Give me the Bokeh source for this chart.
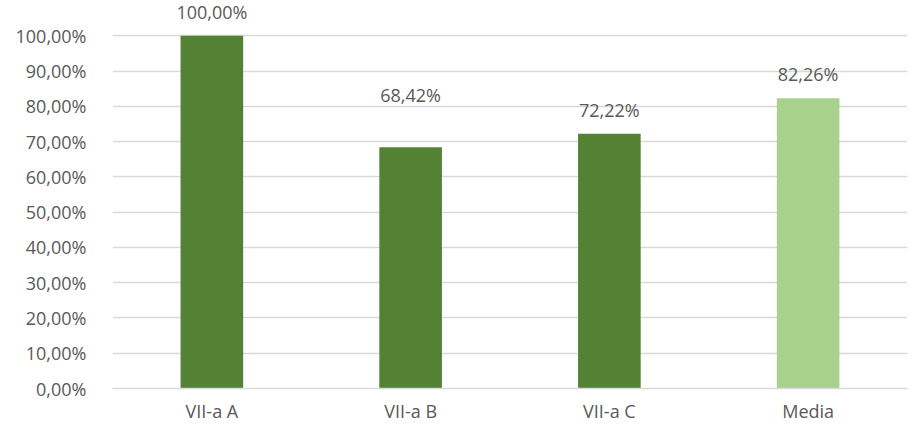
from bokeh.plotting import figure
from bokeh.models import ColumnDataSource, FixedTicker, CustomJSTickFormatter, Range1d, FactorRange
from bokeh.core.properties import value
from bokeh.embed import file_html
from bokeh.resources import INLINE

categories = ["VII-a A", "VII-a B", "VII-a C", "Media"]
values = [100.00, 68.42, 72.22, 82.26]
y_ticks = [0, 10, 20, 30, 40, 50, 60, 70, 80, 90, 100]

# styling
bar_colors = ["#548235", "#548235", "#548235", "#A9D18E"]
label_offsets = [-24, -52, -24, -24]
FONT = "Open Sans"
FS = "18px"
TXT = "#595959"
GRID = "#D9D9D9"

labels = [f"{v:.2f}".replace(".", ",") + "%" for v in values]
src = ColumnDataSource(dict(cat=categories, val=values, color=bar_colors,
                            lbl=labels, dy=label_offsets))

p = figure(x_range=FactorRange(*categories), y_range=Range1d(0, 110.0),
           width=908, height=425, output_backend="svg", toolbar_location=None,
           min_border_left=112, min_border_right=1, min_border_top=0, min_border_bottom=20)
p.outline_line_color = None
p.background_fill_color = "white"
p.border_fill_color = "white"

p.vbar(x="cat", top="val", width=0.315, color="color", line_color=None, source=src)
p.text(x="cat", y="val", text="lbl", y_offset="dy", source=src,
       text_align="center", text_baseline="middle",
       text_font=value(FONT), text_font_size=FS, text_color=TXT)

p.yaxis.ticker = FixedTicker(ticks=y_ticks)
p.yaxis.formatter = CustomJSTickFormatter(code="return tick.toFixed(2).replace('.', ',') + '%';")
p.yaxis.axis_line_color = None
p.yaxis.major_tick_line_color = None
p.yaxis.minor_tick_line_color = None
p.yaxis.major_label_standoff = 20
p.yaxis.major_label_text_font = FONT
p.yaxis.major_label_text_font_size = FS
p.yaxis.major_label_text_color = TXT

p.xaxis.axis_line_color = GRID
p.xaxis.axis_line_width = 1.5
p.xaxis.major_tick_line_color = None
p.xaxis.minor_tick_line_color = None
p.xaxis.major_tick_out = 0
p.xaxis.major_label_standoff = 10
p.xaxis.major_label_text_font = FONT
p.xaxis.major_label_text_font_size = FS
p.xaxis.major_label_text_color = TXT

p.xgrid.grid_line_color = None
p.ygrid.ticker = FixedTicker(ticks=y_ticks)
p.ygrid.grid_line_color = GRID
p.ygrid.grid_line_width = 1.5

open("out.html", "w").write(file_html(p, INLINE))
